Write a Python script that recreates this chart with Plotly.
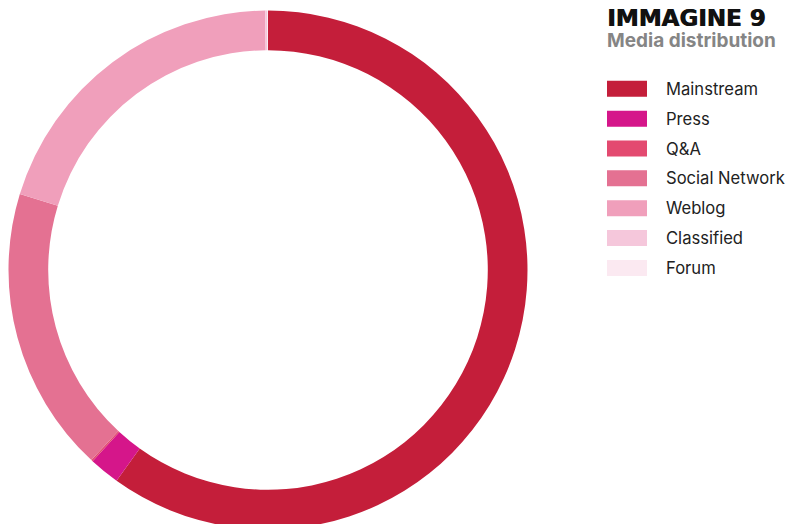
import plotly.graph_objects as go

categories = ["Mainstream", "Press", "Q&A", "Social Network", "Weblog", "Classified", "Forum"]
shares = [59.9, 1.9, 0.1, 17.8, 20.1, 0.12, 0.05]
colors = ["#C41E3A", "#D5168A", "#E34A70", "#E47192", "#F09FBB", "#F5C7DB", "#FBE9F1"]
title_text = "IMMAGINE 9"
subtitle_text = "Media distribution"

W, H = 802, 540
cx, cy, R = 268, 270, 259.5
hole = 0.847

fig = go.Figure(go.Pie(
    labels=categories, values=shares, sort=False, direction="clockwise", rotation=0,
    hole=hole, marker=dict(colors=colors, line=dict(width=0)),
    textinfo="none", hoverinfo="label+percent", showlegend=False,
    domain=dict(x=[(cx - R) / W, (cx + R) / W], y=[1 - (cy + R) / H, 1 - (cy - R) / H]),
))

def py(p):
    return 1 - p / H

def px(p):
    return p / W

shapes = []
annotations = []
for i, (cat, col) in enumerate(zip(categories, colors)):
    yc = 88.8 + 29.85 * i
    shapes.append(dict(type="rect", xref="paper", yref="paper",
                       x0=px(607), x1=px(647), y0=py(yc + 8), y1=py(yc - 8),
                       fillcolor=col, line=dict(width=0)))
    annotations.append(dict(text=cat, xref="paper", yref="paper", x=px(663.5), y=py(yc),
                            xanchor="left", yanchor="middle", showarrow=False,
                            font=dict(family="Inter", size=16.6, color="#222222")))

annotations.append(dict(text=title_text, xref="paper", yref="paper", x=px(605), y=py(18),
                        xanchor="left", yanchor="middle", showarrow=False,
                        font=dict(family="DejaVu Sans", size=23, color="#111111", weight="bold",
                                  shadow="0.7px 0 0 #111111")))
annotations.append(dict(text=subtitle_text, xref="paper", yref="paper", x=px(605), y=py(40),
                        xanchor="left", yanchor="middle", showarrow=False,
                        font=dict(family="Inter", size=19, color="#858585", weight="bold")))

fig.update_layout(width=W, height=H, margin=dict(l=0, r=0, t=0, b=0),
                  paper_bgcolor="white", plot_bgcolor="white",
                  shapes=shapes, annotations=annotations)

fig.write_html("out.html", config={"displayModeBar": False},
               post_script="document.documentElement.style.overflow='hidden';"
                           "document.body.style.overflow='hidden';"
                           "document.body.style.margin='0';")
